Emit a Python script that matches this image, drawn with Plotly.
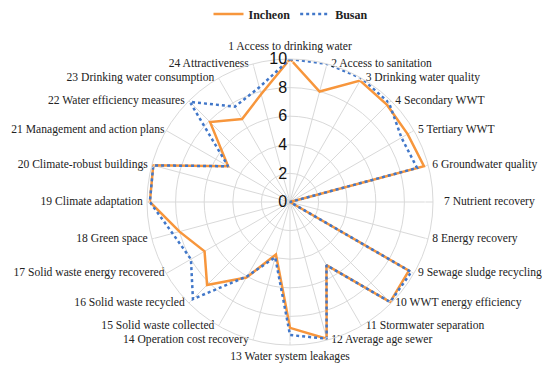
import plotly.graph_objects as go

categories = [
    "1 Access to drinking water", "2 Access to sanitation", "3 Drinking water quality",
    "4 Secondary WWT", "5 Tertiary WWT", "6 Groundwater quality", "7 Nutrient recovery",
    "8 Energy recovery", "9 Sewage sludge recycling", "10 WWT energy efficiency",
    "11 Stormwater separation", "12 Average age sewer", "13 Water system leakages",
    "14 Operation cost recovery", "15 Solid waste collected", "16 Solid waste recycled",
    "17 Solid waste energy recovered", "18 Green space", "19 Climate adaptation",
    "20 Climate-robust buildings", "21 Management and action plans",
    "22 Water efficiency measures", "23 Drinking water consumption", "24 Attractiveness",
]
incheon = [10, 8.0, 9.8, 9.6, 9.5, 9.7, 0, 0, 9.6, 9.9, 5.1, 9.9,
           8.8, 3.8, 6.1, 8.2, 6.9, 8.0, 9.8, 9.9, 5.0, 7.9, 6.7, 7.8]
busan = [10, 10, 10, 9.8, 9.0, 9.2, 0, 0, 9.8, 9.9, 5.1, 9.9,
         9.3, 4.0, 6.0, 9.6, 8.0, 8.5, 9.8, 9.9, 5.0, 9.9, 7.7, 8.3]
radial_ticks = [0, 2, 4, 6, 8, 10]

n = len(categories)
label_pos = []
pad = []
for i in range(n):
    if i == 0:
        label_pos.append("top center")
        pad.append(8)
    elif i == n // 2:
        label_pos.append("bottom center")
        pad.append(8)
    elif i < n // 2:
        label_pos.append("middle right")
        pad.append(16 if i == 6 else 5)
    else:
        label_pos.append("middle left")
        pad.append(1 if i in (16, 20) else 5)

fig = go.Figure()
fig.add_trace(go.Scatterpolar(
    r=incheon + incheon[:1], theta=categories + categories[:1], mode="lines",
    name="Incheon", line=dict(color="#F7963C", width=2.5), hoverinfo="skip"))
fig.add_trace(go.Scatterpolar(
    r=busan + busan[:1], theta=categories + categories[:1], mode="lines",
    name="Busan", line=dict(color="#4177C9", width=2.5, dash="dot"), hoverinfo="skip"))
fig.add_trace(go.Scatterpolar(
    r=[radial_ticks[-1]] * n, theta=categories, mode="markers+text", text=categories,
    marker=dict(size=pad, color="rgba(0,0,0,0)"),
    textposition=label_pos, cliponaxis=False, showlegend=False, hoverinfo="skip",
    textfont=dict(family="Liberation Serif", size=11.6, color="#222")))

W, H = 550, 370
# the page body adds an 8px offset; positions below are in figure pixels
cx, cy, R = 282, 194, 143
fig.update_layout(
    width=W, height=H,
    margin=dict(l=0, r=0, t=0, b=0, autoexpand=False),
    paper_bgcolor="white",
    font=dict(family="Liberation Serif", size=12, color="#222"),
    legend=dict(orientation="h", x=283 / W, xanchor="center", y=1 - 6 / H, yanchor="middle",
                font=dict(family="Liberation Serif", size=12, color="#222", weight="bold"),
                bgcolor="rgba(0,0,0,0)", itemwidth=30),
    polar=dict(
        domain=dict(x=[(cx - R) / W, (cx + R) / W],
                    y=[(H - cy - R) / H, (H - cy + R) / H]),
        bgcolor="white",
        angularaxis=dict(direction="clockwise", rotation=90, type="category",
                         categoryarray=categories, showticklabels=False,
                         showline=True, linecolor="#D9D9D9", linewidth=1,
                         gridcolor="#D9D9D9", gridwidth=1, ticks=""),
        radialaxis=dict(range=[0, 10], tickvals=radial_ticks, angle=90, tickangle=90,
                        side="counterclockwise",
                        showline=False, gridcolor="#D9D9D9", gridwidth=1, ticks="",
                        tickfont=dict(family="Liberation Sans", size=16, color="#111")),
    ),
)
fig.write_html("out.html")
